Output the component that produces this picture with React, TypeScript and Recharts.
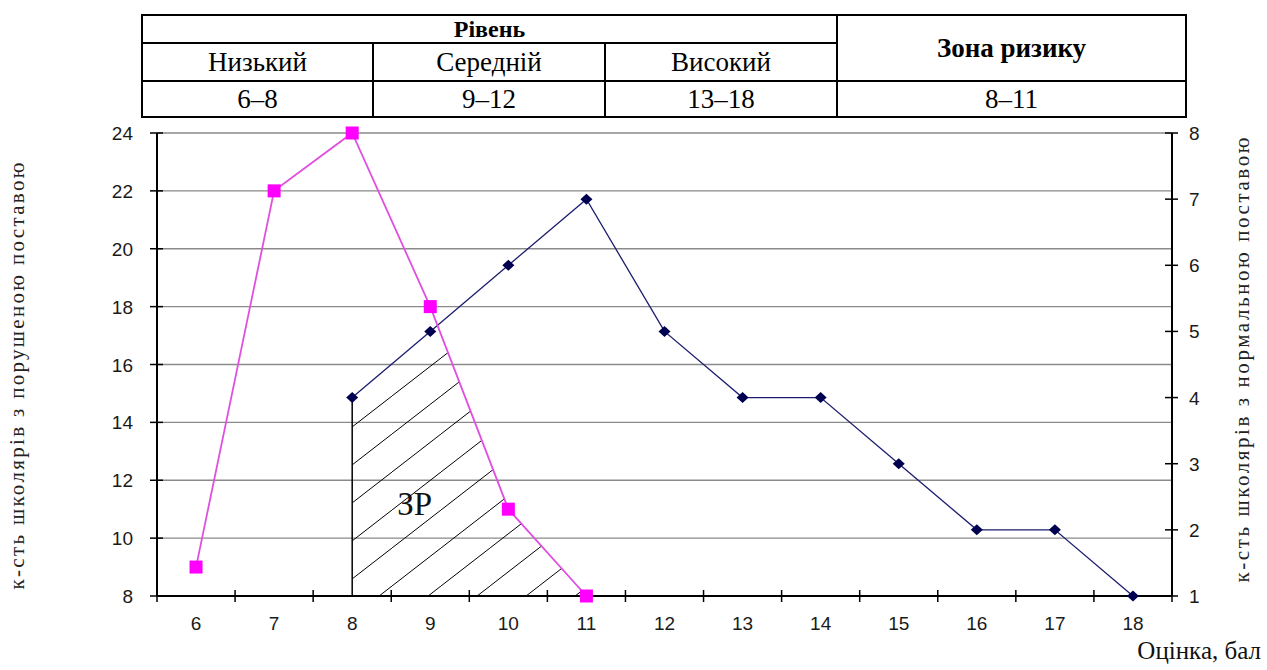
import React from 'react';
import {
  ComposedChart,
  Line,
  Area,
  XAxis,
  YAxis,
  CartesianGrid,
  ReferenceLine,
  ReferenceDot,
} from 'recharts';

// оцінки (бали)
const grades = [6, 7, 8, 9, 10, 11, 12, 13, 14, 15, 16, 17, 18];
// школярі з порушеною поставою (ліва вісь)
const brokenGrades = [6, 7, 8, 9, 10, 11];
const brokenPosture = [9, 22, 24, 18, 11, 8];
// школярі з нормальною поставою (права вісь)
const normalGrades = [8, 9, 10, 11, 12, 13, 14, 15, 16, 17, 18];
const normalPosture = [4, 5, 6, 7, 5, 4, 4, 3, 2, 2, 1];

const leftTicks = [8, 10, 12, 14, 16, 18, 20, 22, 24];
const rightTicks = [1, 2, 3, 4, 5, 6, 7, 8];
const riskZone = [8, 11];

const levelNames = ['Низький', 'Середній', 'Високий'];
const levelRanges = ['6–8', '9–12', '13–18'];
const riskRange = '8–11';

const serif = '"Liberation Serif", "Times New Roman", serif';
const sans = '"Liberation Sans", Arial, sans-serif';

const lMin = leftTicks[0];
const lMax = leftTicks[leftTicks.length - 1];
const rMin = rightTicks[0];
const rMax = rightTicks[rightTicks.length - 1];
// перевести значення правої осі у шкалу лівої
const toLeft = (v: number) => lMin + ((v - rMin) * (lMax - lMin)) / (rMax - rMin);

const brokenAt = (g: number) => brokenPosture[brokenGrades.indexOf(g)];
const normalLeftAt = (g: number) => toLeft(normalPosture[normalGrades.indexOf(g)]);

// зона ризику: під обома кривими між 8 і 11
const zonePts: { x: number; zone: number }[] = [];
for (let g = riskZone[0]; g <= riskZone[1]; g++) {
  zonePts.push({ x: g, zone: Math.min(normalLeftAt(g), brokenAt(g)) });
  if (g < riskZone[1]) {
    const d0 = normalLeftAt(g) - brokenAt(g);
    const d1 = normalLeftAt(g + 1) - brokenAt(g + 1);
    if (d0 * d1 < 0) {
      const t = d0 / (d0 - d1);
      zonePts.push({ x: g + t, zone: normalLeftAt(g) + t * (normalLeftAt(g + 1) - normalLeftAt(g)) });
    }
  }
}

const xs = Array.from(new Set([...grades, ...zonePts.map((p) => p.x)])).sort((a, b) => a - b);
const rows = xs.map((x) => {
  const bi = brokenGrades.indexOf(x);
  const ni = normalGrades.indexOf(x);
  const z = zonePts.find((p) => p.x === x);
  return {
    x,
    broken: bi >= 0 ? brokenPosture[bi] : undefined,
    normal: ni >= 0 ? normalPosture[ni] : undefined,
    zone: z ? z.zone : undefined,
  };
});

const xTicks = [...grades.map((g) => g - 0.5), grades[grades.length - 1] + 0.5, ...grades].sort(
  (a, b) => a - b,
);

function XTick(props: any) {
  const { x, y, payload } = props;
  if (Number.isInteger(payload.value)) {
    return (
      <text x={x} y={y + 34} textAnchor="middle" fontSize={19} fontFamily={sans} fill="#1a1a1a">
        {payload.value}
      </text>
    );
  }
  return <line x1={x} x2={x} y1={y - 6} y2={y + 6} stroke="#000" strokeWidth={1.5} />;
}

function YTick(props: any) {
  const { x, y, payload, side } = props;
  const left = side === 'left';
  return (
    <g>
      <line x1={x - 7} x2={x + 6} y1={y} y2={y} stroke="#000" strokeWidth={1.5} />
      <text
        x={left ? x - 24 : x + 17}
        y={y + 7}
        textAnchor={left ? 'end' : 'start'}
        fontSize={19}
        fontFamily={sans}
        fill="#1a1a1a"
      >
        {payload.value}
      </text>
    </g>
  );
}

function SquareDot(props: any) {
  const { cx, cy, index } = props;
  if (cx == null || cy == null) return <g key={`s${index}`} />;
  return <rect key={`s${index}`} x={cx - 6.5} y={cy - 6.5} width={13} height={13} fill="#ff00ff" />;
}

function DiamondDot(props: any) {
  const { cx, cy, index } = props;
  if (cx == null || cy == null) return <g key={`d${index}`} />;
  return (
    <path
      key={`d${index}`}
      d={`M${cx},${cy - 5.5} L${cx + 6},${cy} L${cx},${cy + 5.5} L${cx - 6},${cy} Z`}
      fill="#000050"
    />
  );
}

const cell: React.CSSProperties = {
  border: '2px solid #000',
  textAlign: 'center',
  padding: 0,
  fontFamily: serif,
  color: '#000',
};

export default function App() {
  return (
    <div style={{ position: 'absolute', left: 0, top: 0, width: 1267, height: 670, background: '#fff' }}>
      <ComposedChart
        width={1267}
        height={670}
        data={rows}
        margin={{ top: 133, right: 35, bottom: 34, left: 97 }}
      >
        <defs>
          <pattern id="hatch" patternUnits="userSpaceOnUse" width={49} height={38} y={16}>
            <path d="M-49,38 L0,0 M0,38 L49,0 M49,38 L98,0" stroke="#000" strokeWidth={1} />
          </pattern>
        </defs>
        <CartesianGrid yAxisId="left" vertical={false} stroke="#8a8a8a" strokeWidth={1.3} />
        <XAxis
          type="number"
          dataKey="x"
          domain={[grades[0] - 0.5, grades[grades.length - 1] + 0.5]}
          ticks={xTicks}
          interval={0}
          allowDataOverflow
          tickLine={false}
          tickSize={0}
          tickMargin={0}
          tick={<XTick />}
          axisLine={{ stroke: '#000', strokeWidth: 2 }}
          height={40}
        />
        <YAxis
          yAxisId="left"
          domain={[lMin, lMax]}
          ticks={leftTicks}
          interval={0}
          width={60}
          tickLine={false}
          tickSize={0}
          tickMargin={0}
          tick={<YTick side="left" />}
          axisLine={{ stroke: '#000', strokeWidth: 2 }}
        />
        <YAxis
          yAxisId="right"
          orientation="right"
          domain={[rMin, rMax]}
          ticks={rightTicks}
          interval={0}
          width={60}
          tickLine={false}
          tickSize={0}
          tickMargin={0}
          tick={<YTick side="right" />}
          axisLine={{ stroke: '#000', strokeWidth: 2 }}
        />
        <Area
          yAxisId="left"
          dataKey="zone"
          fill="url(#hatch)"
          fillOpacity={1}
          stroke="none"
          dot={false}
          activeDot={false}
          isAnimationActive={false}
        />
        <ReferenceLine
          yAxisId="left"
          segment={[
            { x: riskZone[0], y: lMin },
            { x: riskZone[0], y: zonePts[0].zone },
          ]}
          stroke="#000"
          strokeWidth={1.5}
        />
        <ReferenceDot
          yAxisId="left"
          x={8.8}
          y={11.2}
          r={0}
          stroke="none"
          label={{ value: 'ЗР', position: 'center', fontSize: 33, fontFamily: serif, fill: '#111' }}
        />
        <Line
          yAxisId="right"
          dataKey="normal"
          stroke="#1c1c6e"
          strokeWidth={1.3}
          connectNulls
          dot={DiamondDot}
          activeDot={false}
          isAnimationActive={false}
        />
        <Line
          yAxisId="left"
          dataKey="broken"
          stroke="#e050e0"
          strokeWidth={1.8}
          connectNulls
          dot={SquareDot}
          activeDot={false}
          isAnimationActive={false}
        />
      </ComposedChart>

      <svg
        width={1267}
        height={670}
        style={{ position: 'absolute', left: 0, top: 0, pointerEvents: 'none' }}
      >
        <text
          transform="translate(24,376) rotate(-90)"
          textAnchor="middle"
          fontSize={21}
          fontFamily={serif}
          fill="#222"
          textLength={427}
          lengthAdjust="spacing"
        >
          к-сть школярів з порушеною поставою
        </text>
        <text
          transform="translate(1249,360) rotate(-90)"
          textAnchor="middle"
          fontSize={21}
          fontFamily={serif}
          fill="#222"
          textLength={445}
          lengthAdjust="spacing"
        >
          к-сть школярів з нормальною поставою
        </text>
        <text x={1261} y={659} textAnchor="end" fontSize={25} fontFamily={serif} fill="#111">
          Оцінка, бал
        </text>
      </svg>

      <table
        style={{
          position: 'absolute',
          left: 141,
          top: 14,
          width: 1044,
          borderCollapse: 'collapse',
          tableLayout: 'fixed',
        }}
      >
        <colgroup>
          <col style={{ width: 231 }} />
          <col style={{ width: 232 }} />
          <col style={{ width: 232 }} />
          <col style={{ width: 349 }} />
        </colgroup>
        <tbody>
          <tr style={{ height: 28 }}>
            <td colSpan={3} style={{ ...cell, fontWeight: 'bold', fontSize: 24, lineHeight: '24px' }}>
              Рівень
            </td>
            <td rowSpan={2} style={{ ...cell, fontWeight: 'bold', fontSize: 27 }}>
              Зона ризику
            </td>
          </tr>
          <tr style={{ height: 38 }}>
            {levelNames.map((n) => (
              <td key={n} style={{ ...cell, fontSize: 27, lineHeight: '30px' }}>
                {n}
              </td>
            ))}
          </tr>
          <tr style={{ height: 36 }}>
            {levelRanges.map((r) => (
              <td key={r} style={{ ...cell, fontSize: 27, lineHeight: '30px' }}>
                {r}
              </td>
            ))}
            <td style={{ ...cell, fontSize: 27, lineHeight: '30px' }}>{riskRange}</td>
          </tr>
        </tbody>
      </table>
    </div>
  );
}
